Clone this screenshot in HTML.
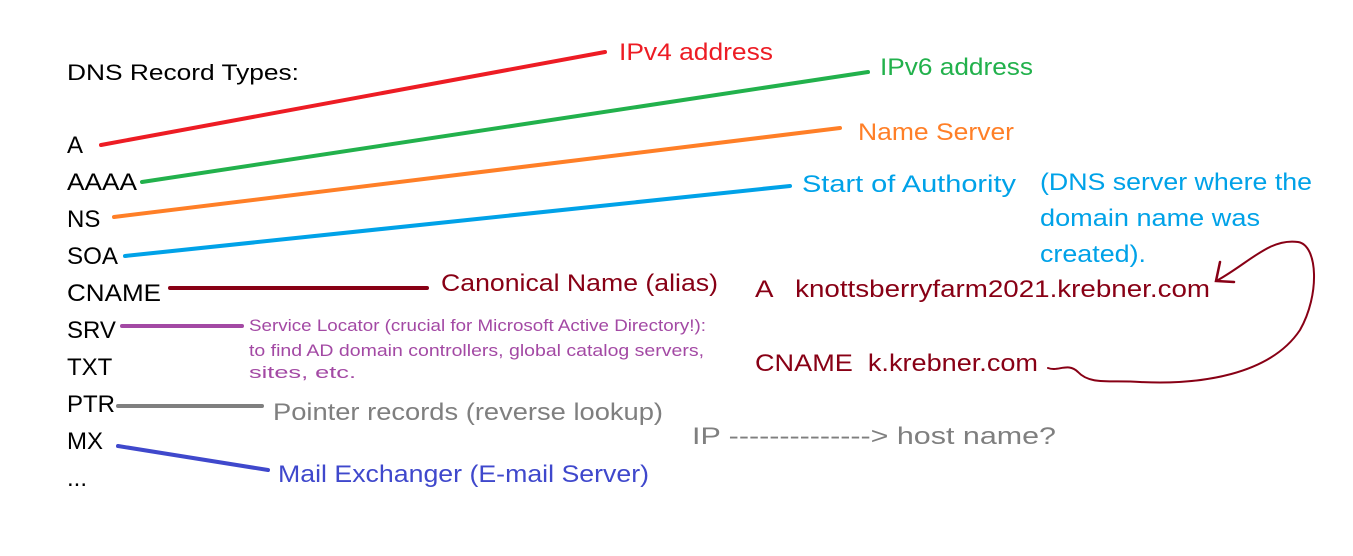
<!DOCTYPE html>
<html><head><meta charset="utf-8"><style>
html,body{margin:0;padding:0;background:#fff;}
svg{display:block;}
text{font-family:"Liberation Sans","DejaVu Sans",sans-serif;}
</style></head><body>
<svg width="1353" height="556" viewBox="0 0 1353 556" xmlns="http://www.w3.org/2000/svg">
<rect width="1353" height="556" fill="#fff"/>
<text x="67" y="80" font-size="22" fill="#000" textLength="232" lengthAdjust="spacingAndGlyphs">DNS Record Types:</text>
<g font-size="24" fill="#000">
<text x="67" y="153">A</text>
<text x="67" y="190" textLength="70" lengthAdjust="spacingAndGlyphs">AAAA</text>
<text x="67" y="227">NS</text>
<text x="67" y="264" textLength="51" lengthAdjust="spacingAndGlyphs">SOA</text>
<text x="67" y="301" textLength="94" lengthAdjust="spacingAndGlyphs">CNAME</text>
<text x="67" y="338">SRV</text>
<text x="67" y="375">TXT</text>
<text x="67" y="412">PTR</text>
<text x="67" y="449">MX</text>
<text x="67" y="486">...</text>
</g>
<g stroke-width="4" stroke-linecap="round" fill="none">
<line x1="101" y1="145" x2="605" y2="52" stroke="#ed1c24"/>
<line x1="142" y1="182" x2="868" y2="72" stroke="#22b14c"/>
<line x1="114" y1="217" x2="840" y2="128" stroke="#ff7f27"/>
<line x1="125" y1="256" x2="790" y2="186" stroke="#00a2e8"/>
<line x1="170" y1="288" x2="427" y2="288" stroke="#880015"/>
<line x1="122" y1="326" x2="242" y2="326" stroke="#a349a4"/>
<line x1="118" y1="406" x2="262" y2="406" stroke="#7f7f7f"/>
<line x1="118" y1="446" x2="268" y2="470" stroke="#3f48cc"/>
<path d="M1048 368 C1058 372,1068 362,1078 372 C1090 385,1110 380,1140 382 C1200 385,1270 375,1300 330 C1320 295,1318 245,1298 242 C1270 238,1250 262,1218 280" stroke="#880015" stroke-width="2"/>
<path d="M1220 262 L1216 281 L1234 282" stroke="#880015" stroke-width="2.5"/>
</g>
<g font-size="24">
<text x="619" y="60" fill="#ed1c24" textLength="154" lengthAdjust="spacingAndGlyphs">IPv4 address</text>
<text x="880" y="75" fill="#22b14c" textLength="153" lengthAdjust="spacingAndGlyphs">IPv6 address</text>
<text x="858" y="140" fill="#ff7f27" textLength="156" lengthAdjust="spacingAndGlyphs">Name Server</text>
<text x="802" y="192" fill="#00a2e8" textLength="214" lengthAdjust="spacingAndGlyphs">Start of Authority</text>
<text x="1040" y="190" fill="#00a2e8" textLength="272" lengthAdjust="spacingAndGlyphs">(DNS server where the</text>
<text x="1040" y="226" fill="#00a2e8" textLength="220" lengthAdjust="spacingAndGlyphs">domain name was</text>
<text x="1040" y="262" fill="#00a2e8" textLength="106" lengthAdjust="spacingAndGlyphs">created).</text>
<text x="441" y="291" fill="#880015" textLength="277" lengthAdjust="spacingAndGlyphs">Canonical Name (alias)</text>
<text x="755" y="297" fill="#880015" xml:space="preserve" textLength="455" lengthAdjust="spacingAndGlyphs">A   knottsberryfarm2021.krebner.com</text>
<text x="755" y="371" fill="#880015" xml:space="preserve" textLength="283" lengthAdjust="spacingAndGlyphs">CNAME  k.krebner.com</text>
<text x="273" y="420" fill="#7f7f7f" textLength="390" lengthAdjust="spacingAndGlyphs">Pointer records (reverse lookup)</text>
<text x="692" y="444" fill="#7f7f7f" textLength="364" lengthAdjust="spacingAndGlyphs">IP --------------&gt; host name?</text>
<text x="278" y="482" fill="#3f48cc" textLength="371" lengthAdjust="spacingAndGlyphs">Mail Exchanger (E-mail Server)</text>
</g>
<g font-size="17" fill="#a349a4">
<text x="249" y="331" textLength="457" lengthAdjust="spacingAndGlyphs">Service Locator (crucial for Microsoft Active Directory!):</text>
<text x="249" y="356" textLength="455" lengthAdjust="spacingAndGlyphs">to find AD domain controllers, global catalog servers,</text>
<text x="249" y="378" textLength="107" lengthAdjust="spacingAndGlyphs">sites, etc.</text>
</g>
</svg>
</body></html>
